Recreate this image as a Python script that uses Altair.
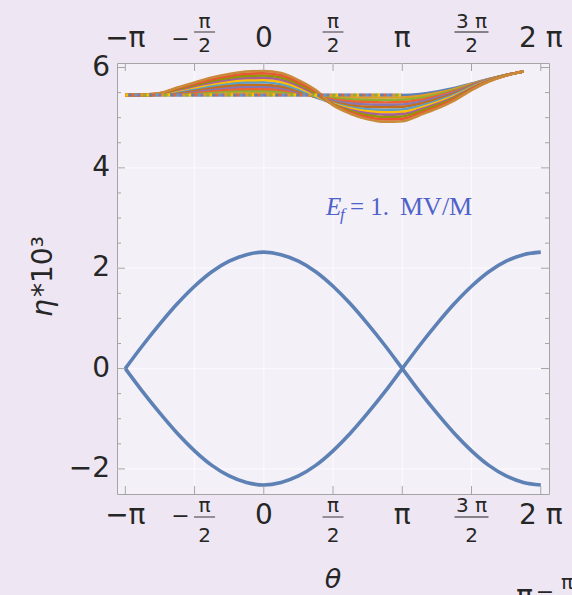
import numpy as np
import pandas as pd
import altair as alt

PI = np.pi

# Two branches of eta*10^3, sampled every pi/8 over [-pi, 2pi]
theta_main = [k * PI / 8 for k in range(-8, 17)]
eta_branch_a = [0.00, 0.46, 0.89, 1.29, 1.64, 1.93, 2.14, 2.27, 2.32, 2.27, 2.14, 1.93, 1.64,
                1.29, 0.89, 0.46, 0.00, -0.46, -0.89, -1.29, -1.64, -1.93, -2.14, -2.27, -2.32]
eta_branch_b = [0.00, -0.46, -0.89, -1.29, -1.64, -1.93, -2.14, -2.27, -2.32, -2.27, -2.14, -1.93, -1.64,
                -1.29, -0.89, -0.46, 0.00, 0.46, 0.89, 1.29, 1.64, 1.93, 2.14, 2.27, 2.32]

# Upper family of curves, sampled every pi/8 over [-pi, 15pi/8]
theta_band = [k * PI / 8 for k in range(-8, 16)]
band_inner = [5.45, 5.45, 5.45, 5.45, 5.45, 5.45, 5.45, 5.45, 5.45, 5.45, 5.45, 5.45,
              5.45, 5.45, 5.45, 5.45, 5.45, 5.47, 5.52, 5.59, 5.68, 5.77, 5.85, 5.92]
band_middle = [5.45, 5.45, 5.47, 5.52, 5.57, 5.62, 5.66, 5.68, 5.68, 5.64, 5.54, 5.40,
               5.29, 5.22, 5.19, 5.18, 5.19, 5.25, 5.35, 5.47, 5.62, 5.75, 5.85, 5.92]
band_outer = [5.45, 5.46, 5.49, 5.60, 5.70, 5.80, 5.87, 5.92, 5.93, 5.89, 5.75, 5.55,
              5.25, 5.08, 4.97, 4.92, 4.93, 5.05, 5.18, 5.34, 5.55, 5.72, 5.84, 5.92]
band_weights = [0.0, 0.09, 0.18, 0.27, 0.36, 0.45, 0.55, 0.64, 0.73, 0.82, 0.91, 1.0]
band_colors = ["#5E81B5", "#E19C24", "#8FB032", "#EB6235", "#8778B3", "#C56E1A",
               "#5D9EC7", "#FFBF00", "#A5609D", "#929600", "#E95536", "#C98A3A"]
flat_dash_colors = ["#FFBF00", "#8FB032", "#E19C24", "#8778B3", "#5D9EC7", "#EB6235", "#5E81B5"]

# Axis ticks and labels
x_major = [-PI, -PI / 2, 0, PI / 2, PI, 3 * PI / 2, 2 * PI]
y_major = [-2, 0, 2, 4, 6]
y_minor = [-1.5, -1.0, -0.5, 0.5, 1.0, 1.5, 2.5, 3.0, 3.5, 4.5, 5.0, 5.5]
x_grid = [-PI / 2, 0, PI / 2, PI, 3 * PI / 2]
y_grid = [-2, 0, 2, 4]
x_whole_pos = [-PI, 0, PI, 2 * PI]
x_whole_text = ["\u2212\u03c0", "0", "\u03c0", "2 \u03c0"]
x_frac_pos = [PI / 2, 3 * PI / 2]
x_frac_num = ["\u03c0", "3 \u03c0"]
x_frac_bar = [21, 34]
y_label_text = ["\u22122", "0", "2", "4", "6"]

W, H = 432, 431
FRAME = "#A4A4A4"
INK = "#262626"
SANS = "DejaVu Sans"

x_scale = alt.Scale(domain=[-3.33, 6.47], nice=False, zero=False)
y_scale = alt.Scale(domain=[-2.50, 6.09], nice=False, zero=False)


def X(field):
    return alt.X(f"{field}:Q", scale=x_scale, axis=None)


def Y(field):
    return alt.Y(f"{field}:Q", scale=y_scale, axis=None)


# ---- data tables
branches = pd.DataFrame({
    "theta": theta_main * 2,
    "eta": eta_branch_a + eta_branch_b,
    "branch": ["a"] * len(theta_main) + ["b"] * len(theta_main),
})

rows = []
for k, w in enumerate(band_weights):
    for th, a, c, b in zip(theta_band, band_inner, band_middle, band_outer):
        if w <= 0.5:
            v = a + (c - a) * w / 0.5
        else:
            v = c + (b - c) * (w - 0.5) / 0.5
        rows.append({"theta": th, "eta": v, "line": k})
band = pd.DataFrame(rows)

flat = pd.DataFrame({"theta": theta_band, "eta": band_inner})
flat = flat[flat["theta"] <= PI + 1e-9]

# ---- grid
grid_h = alt.Chart(pd.DataFrame({"v": y_grid})).mark_rule(
    color="#FFFFFF", strokeWidth=1.3, opacity=0.6
).encode(y=Y("v"), x=alt.value(0), x2=alt.value(W))
grid_v = alt.Chart(pd.DataFrame({"v": x_grid})).mark_rule(
    color="#FFFFFF", strokeWidth=1.3, opacity=0.6
).encode(x=X("v"), y=alt.value(0), y2=alt.value(H))

# ---- upper family of curves
band_lines = alt.Chart(band).mark_line(strokeWidth=2.6, interpolate="monotone").encode(
    x=X("theta"), y=Y("eta"),
    color=alt.Color("line:O", scale=alt.Scale(domain=list(range(len(band_weights))), range=band_colors),
                    legend=None),
)

flat_layers = [
    alt.Chart(flat).mark_line(color=c, strokeWidth=3, strokeDash=[3, 18], strokeDashOffset=3 * i)
    .encode(x=X("theta"), y=Y("eta"))
    for i, c in enumerate(flat_dash_colors)
]

# ---- the two crossing branches
branch_lines = alt.Chart(branches).mark_line(
    color="#5E81B5", strokeWidth=3.6, interpolate="monotone"
).encode(x=X("theta"), y=Y("eta"), detail="branch:N")

# ---- inward frame ticks
ticks = []
for vals, length in [(y_major, 8), (y_minor, 4)]:
    df = pd.DataFrame({"v": vals})
    ticks.append(alt.Chart(df).mark_rule(color=FRAME, strokeWidth=1)
                 .encode(y=Y("v"), x=alt.value(0), x2=alt.value(length)))
    ticks.append(alt.Chart(df).mark_rule(color=FRAME, strokeWidth=1)
                 .encode(y=Y("v"), x=alt.value(W), x2=alt.value(W - length)))
xdf = pd.DataFrame({"v": x_major})
ticks.append(alt.Chart(xdf).mark_rule(color=FRAME, strokeWidth=1)
             .encode(x=X("v"), y=alt.value(H), y2=alt.value(H - 8)))
ticks.append(alt.Chart(xdf).mark_rule(color=FRAME, strokeWidth=1)
             .encode(x=X("v"), y=alt.value(0), y2=alt.value(8)))

# ---- tick labels (bottom and top rows)
whole = pd.DataFrame({"theta": x_whole_pos, "t": x_whole_text})
frac = pd.DataFrame({"theta": x_frac_pos, "num": x_frac_num, "den": "2", "bar": x_frac_bar})
neg_half = pd.DataFrame({"theta": [-PI / 2], "m": ["\u2212"], "num": ["\u03c0"], "den": ["2"], "bar": [21]})


def fraction_layers(df, y_num, y_bar, y_den, shift=0):
    return [
        alt.Chart(df).mark_text(font=SANS, fontSize=20, color=INK, baseline="middle", dx=shift)
        .encode(x=X("theta"), y=alt.value(y_num), text="num:N"),
        alt.Chart(df).mark_text(font=SANS, fontSize=20, color=INK, baseline="middle", dx=shift)
        .encode(x=X("theta"), y=alt.value(y_den), text="den:N"),
        alt.Chart(df).mark_tick(orient="horizontal", thickness=1.3, color=INK, xOffset=shift)
        .encode(x=X("theta"), y=alt.value(y_bar), size=alt.Size("bar:Q", scale=None)),
    ]


labels = []
for y_whole, y_num, y_bar, y_den in [(452.7, 443.0, 454.0, 472.7), (-23.8, -41.5, -31.0, -16.8)]:
    labels.append(alt.Chart(whole).mark_text(font=SANS, fontSize=28, color=INK, baseline="middle")
                  .encode(x=X("theta"), y=alt.value(y_whole), text="t:N"))
    labels += fraction_layers(frac, y_num, y_bar, y_den)
    labels += fraction_layers(neg_half, y_num, y_bar, y_den, shift=10)
    labels.append(alt.Chart(neg_half).mark_text(font=SANS, fontSize=22, color=INK, baseline="middle", dx=-14)
                  .encode(x=X("theta"), y=alt.value(y_whole), text="m:N"))

ylab = pd.DataFrame({"v": y_major, "t": y_label_text})
labels.append(alt.Chart(ylab).mark_text(font=SANS, fontSize=28, color=INK, baseline="middle", align="right")
              .encode(y=Y("v"), x=alt.value(-7), text="t:N"))

# ---- axis titles
titles = [
    alt.Chart(pd.DataFrame({"t": ["\u03b8"]})).mark_text(
        font=SANS, fontSize=27, fontStyle="italic", color=INK, baseline="middle"
    ).encode(x=alt.value(W / 2), y=alt.value(517), text="t:N"),
    alt.Chart(pd.DataFrame({"t": ["\u03b7"]})).mark_text(
        font=SANS, fontSize=28, fontStyle="italic", color=INK, baseline="middle", align="left", angle=270
    ).encode(x=alt.value(-73), y=alt.value(254), text="t:N"),
    alt.Chart(pd.DataFrame({"t": ["*10\u00b3"]})).mark_text(
        font=SANS, fontSize=28, color=INK, baseline="middle", align="left", angle=270
    ).encode(x=alt.value(-73), y=alt.value(234), text="t:N"),
]

# ---- field annotation
ANN = "#4F62C9"
SERIF = "Liberation Serif"
annot = [
    alt.Chart(pd.DataFrame({"t": ["E"]})).mark_text(
        font=SERIF, fontSize=25, fontStyle="italic", color=ANN, align="left", baseline="alphabetic"
    ).encode(x=alt.value(209), y=alt.value(152), text="t:N"),
    alt.Chart(pd.DataFrame({"t": ["f"]})).mark_text(
        font=SERIF, fontSize=17, fontStyle="italic", color=ANN, align="left", baseline="alphabetic"
    ).encode(x=alt.value(223), y=alt.value(157), text="t:N"),
    alt.Chart(pd.DataFrame({"t": ["= 1."]})).mark_text(
        font=SERIF, fontSize=25, color=ANN, align="left", baseline="alphabetic"
    ).encode(x=alt.value(233), y=alt.value(152), text="t:N"),
    alt.Chart(pd.DataFrame({"t": ["MV/M"]})).mark_text(
        font=SERIF, fontSize=26, color=ANN, align="left", baseline="alphabetic"
    ).encode(x=alt.value(283), y=alt.value(152), text="t:N"),
]

# ---- tick labels of a neighbouring panel, cut by the lower edge
stray = [
    alt.Chart(pd.DataFrame({"t": ["\u2212\u03c0"]})).mark_text(
        font=SANS, fontSize=28, color=INK, align="right", baseline="alphabetic"
    ).encode(x=alt.value(416), y=alt.value(542), text="t:N"),
    alt.Chart(pd.DataFrame({"t": ["\u2212"]})).mark_text(
        font=SANS, fontSize=22, color=INK, baseline="middle"
    ).encode(x=alt.value(428), y=alt.value(529), text="t:N"),
    alt.Chart(pd.DataFrame({"t": ["\u03c0"]})).mark_text(
        font=SANS, fontSize=20, color=INK, baseline="middle"
    ).encode(x=alt.value(450), y=alt.value(520), text="t:N"),
]

chart = alt.layer(
    grid_h, grid_v, band_lines, *flat_layers, branch_lines, *ticks, *labels, *titles, *annot, *stray
).properties(
    width=W, height=H,
    autosize=alt.AutoSizeParams(type="none"),
    padding={"left": 117, "top": 63, "right": 23, "bottom": 101},
).configure(
    background="#EEE7F3"
).configure_view(
    fill="#F4F0F8", stroke=FRAME, strokeWidth=1
)

chart.save("out.html", embed_options={"renderer": "svg", "actions": False})
